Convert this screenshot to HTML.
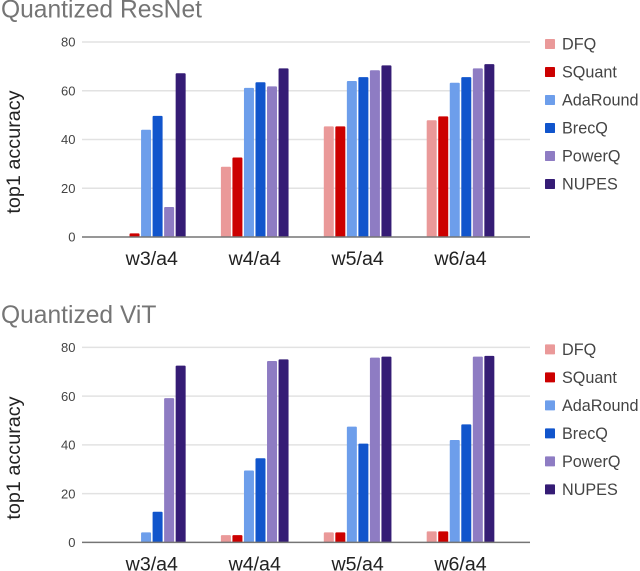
<!DOCTYPE html>
<html>
<head>
<meta charset="utf-8">
<style>
html,body{margin:0;padding:0;background:#fff;width:640px;height:571px;overflow:hidden}
svg{display:block;font-family:"Liberation Sans",sans-serif;filter:blur(0.35px)}
</style>
</head>
<body>
<svg id="chart" xmlns="http://www.w3.org/2000/svg" width="640" height="571" viewBox="0 0 640 571"></svg>
<script>
const categories = ["w3/a4", "w4/a4", "w5/a4", "w6/a4"];
const seriesNames = ["DFQ", "SQuant", "AdaRound", "BrecQ", "PowerQ", "NUPES"];
const seriesColors = ["#ea9999", "#cc0000", "#6d9eeb", "#1155cc", "#8e7cc3", "#351c75"];
const yTicks = [0, 20, 40, 60, 80];

const resnetTitle = "Quantized ResNet";
const resnetDFQ = [null, 28.8, 45.4, 47.9];
const resnetSQuant = [1.5, 32.6, 45.4, 49.5];
const resnetAdaRound = [44, 61.2, 64, 63.3];
const resnetBrecQ = [49.7, 63.5, 65.6, 65.6];
const resnetPowerQ = [12.3, 61.8, 68.4, 69.2];
const resnetNUPES = [67.2, 69.2, 70.4, 70.9];

const vitTitle = "Quantized ViT";
const vitDFQ = [null, 3, 4.1, 4.5];
const vitSQuant = [null, 3, 4.1, 4.5];
const vitAdaRound = [4.1, 29.5, 47.5, 42];
const vitBrecQ = [12.6, 34.5, 40.5, 48.4];
const vitPowerQ = [59.2, 74.4, 75.8, 76.2];
const vitNUPES = [72.5, 75.1, 76.2, 76.5];

const NS = "http://www.w3.org/2000/svg";
const svg = document.getElementById("chart");

function make(parent, tag, attrs, text) {
  const el = document.createElementNS(NS, tag);
  for (const k in attrs) el.setAttribute(k, attrs[k]);
  if (text !== undefined) el.textContent = text;
  parent.appendChild(el);
  return el;
}

const PLOT_LEFT = 82, PLOT_RIGHT = 530;
const GROUP_START = 118, GROUP_STEP = 102.9;
const BAR_STEP = 11.53, BAR_WIDTH = 10;
const PX_PER_UNIT = 195 / 80;

function xBar(groupIndex, seriesIndex) {
  return GROUP_START + groupIndex * GROUP_STEP + seriesIndex * BAR_STEP;
}
function xCenter(groupIndex) {
  return GROUP_START + groupIndex * GROUP_STEP + (seriesNames.length * BAR_STEP - (BAR_STEP - BAR_WIDTH)) / 2;
}

function drawPanel(key, title, allSeries, top) {
  const baseline = top + 237;
  const y = function (v) { return baseline - v * PX_PER_UNIT; };

  const g = make(svg, "g", {});
  
  

  const t = make(g, "text", { x: 1, y: top + 17.5, "font-size": 24.6, fill: "#757575" }, title);
  
  

  const yTitleY = key === "resnet" ? 152 : 458 - top;
  const yt = make(g, "text", {
    transform: "translate(20," + (top + yTitleY) + ") rotate(-90)",
    "text-anchor": "middle", "font-size": 19.8, fill: "#222222"
  }, "top1 accuracy");
  
  

  yTicks.forEach(function (v) {
    if (v !== 0) {
      const line = make(g, "line", {
        x1: PLOT_LEFT, x2: PLOT_RIGHT, y1: y(v), y2: y(v),
        stroke: "#e2e2e2", "stroke-width": 1.5
      });
      
      
    }
    const label = make(g, "text", {
      x: 75.5, y: y(v) + 4.7, "text-anchor": "end", "font-size": 13, fill: "#444444"
    }, String(v));
    
    
  });

  allSeries.forEach(function (values, s) {
    values.forEach(function (v, c) {
      if (v === null) return;
      const x0 = xBar(c, s), x1 = x0 + BAR_WIDTH, yTop = y(v), r = Math.min(1, v * PX_PER_UNIT / 2);
      const bar = make(g, "path", {
        d: "M" + x0 + " " + baseline + "V" + (yTop + r) + "Q" + x0 + " " + yTop + " " + (x0 + r) + " " + yTop +
           "H" + (x1 - r) + "Q" + x1 + " " + yTop + " " + x1 + " " + (yTop + r) + "V" + baseline + "Z",
        fill: seriesColors[s]
      });
      
      
    });
  });

  const axis = make(g, "line", {
    x1: PLOT_LEFT, x2: PLOT_RIGHT, y1: baseline, y2: baseline,
    stroke: "#757575", "stroke-width": 1.5
  });
  
  

  categories.forEach(function (name, c) {
    const label = make(g, "text", {
      x: xCenter(c), y: baseline + 28, "text-anchor": "middle", "font-size": 19.6, fill: "#222222"
    }, name);
    
    
  });

  seriesNames.forEach(function (name, s) {
    const cy = top + 44 + s * 28;
    const entry = make(g, "g", {});
    
    
    const swatch = make(entry, "rect", { x: 545, y: cy - 5, width: 10, height: 10, rx: 0.8, fill: seriesColors[s] });
    
    
    const text = make(entry, "text", { x: 562, y: cy + 5.6, "font-size": 16.2, fill: "#444444" }, name);
    
    
  });
}

drawPanel("resnet", resnetTitle, [resnetDFQ, resnetSQuant, resnetAdaRound, resnetBrecQ, resnetPowerQ, resnetNUPES], 0);
drawPanel("vit", vitTitle, [vitDFQ, vitSQuant, vitAdaRound, vitBrecQ, vitPowerQ, vitNUPES], 305.4);
</script>
</body>
</html>
